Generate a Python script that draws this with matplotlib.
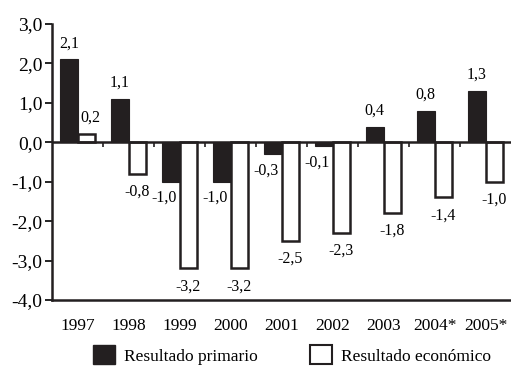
import matplotlib
matplotlib.use("Agg")
import matplotlib.pyplot as plt
import numpy as np
from matplotlib.patches import Patch

years = ["1997", "1998", "1999", "2000", "2001", "2002", "2003", "2004*", "2005*"]
primario = [2.1, 1.1, -1.0, -1.0, -0.3, -0.1, 0.4, 0.8, 1.3]
economico = [0.2, -0.8, -3.2, -3.2, -2.5, -2.3, -1.8, -1.4, -1.0]
yticks = [3.0, 2.0, 1.0, 0.0, -1.0, -2.0, -3.0, -4.0]

plt.rcParams['font.family'] = ['Liberation Serif', 'DejaVu Serif']

fig = plt.figure(figsize=(5.11, 3.69), dpi=100)
ax = fig.add_axes([52/511, 1-300/369, 1-52/511, (300-24)/369])

x = np.arange(len(years))
w = 0.34
ax.bar(x - w/2, primario, w, color='#231f20', edgecolor='#231f20', linewidth=0.8, zorder=2)
ax.bar(x + w/2, economico, w, color='white', edgecolor='#231f20', linewidth=1.8, zorder=2)

def fmt(v):
    return f"{v:.1f}".replace('.', ',')

fs_lab = 11.5
for xi, v in zip(x, primario):
    if v >= 0:
        ax.annotate(fmt(v), (xi - w/2, v), xytext=(0, 6), textcoords='offset points',
                    ha='center', va='bottom', fontsize=fs_lab)
    else:
        ax.annotate(fmt(v), (xi - w/2, v), xytext=(-5, -6), textcoords='offset points',
                    ha='center', va='top', fontsize=fs_lab)
for xi, v in zip(x, economico):
    if v >= 0:
        ax.annotate(fmt(v), (xi + w/2, v), xytext=(3, 6), textcoords='offset points',
                    ha='center', va='bottom', fontsize=fs_lab)
    else:
        ax.annotate(fmt(v), (xi + w/2, v), xytext=(0, -7), textcoords='offset points',
                    ha='center', va='top', fontsize=fs_lab)

ax.set_xlim(-0.5, len(years) - 0.5)
ax.set_ylim(-4.0, 3.0)
ax.set_yticks(yticks)
ax.set_yticklabels([fmt(t) for t in yticks], fontsize=14)
ax.tick_params(axis='y', length=5, width=1.2, direction='out', pad=2)
ax.set_xticks(x)
ax.set_xticklabels(years, fontsize=12.5)
ax.tick_params(axis='x', length=0, pad=13)

# zero line with separator ticks
ax.axhline(0, color='#231f20', linewidth=1.8, zorder=3)
for b in np.arange(0.5, len(years) - 0.5, 1.0):
    ax.plot([b, b], [0, -0.13], color='#231f20', linewidth=1.2, zorder=3, solid_capstyle='butt')

for s in ['top', 'right']:
    ax.spines[s].set_visible(False)
for s in ['left', 'bottom']:
    ax.spines[s].set_linewidth(1.8)
    ax.spines[s].set_color('#231f20')

handles = [Patch(facecolor='#231f20', edgecolor='#231f20', label='Resultado primario'),
           Patch(facecolor='white', edgecolor='#231f20', linewidth=1.5, label='Resultado económico')]
fig.legend(handles=handles, loc='center', bbox_to_anchor=(292/511, 1-355/369), ncol=2,
           frameon=False, fontsize=12.5, handlelength=1.3, handleheight=1.3,
           columnspacing=3.0, handletextpad=0.5)

fig.savefig('out.png', dpi=100)
